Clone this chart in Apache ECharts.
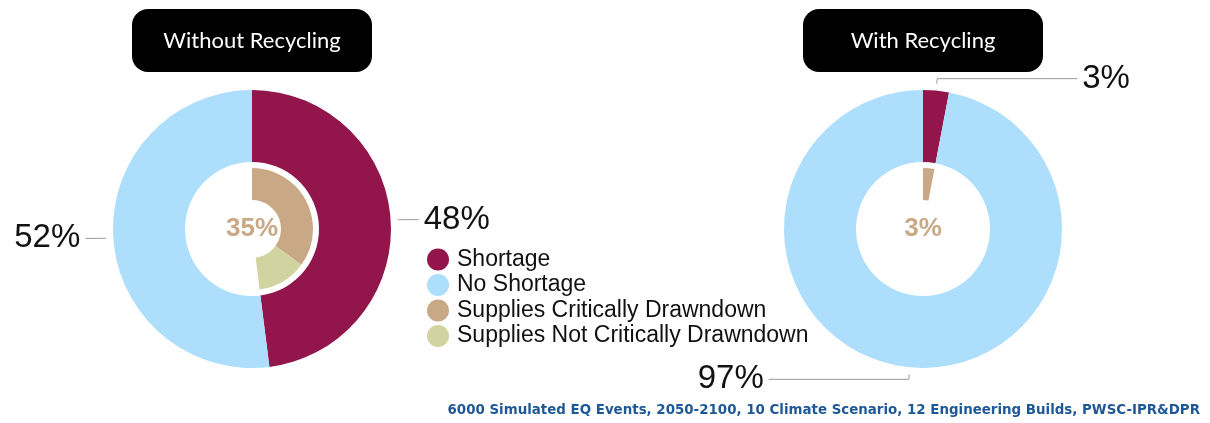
<!DOCTYPE html>
<html><head><meta charset="utf-8">
<script src="https://cdn.jsdelivr.net/npm/echarts@6/dist/echarts.min.js"></script>
<style>html,body{margin:0;padding:0;background:#fff}#c{width:1210px;height:423px}</style>
</head><body><div id="c"></div>
<script>
const categories = ['Shortage', 'No Shortage', 'Supplies Critically Drawndown', 'Supplies Not Critically Drawndown'];
const panelTitles = ['Without Recycling', 'With Recycling'];
const withoutOuter = [48, 52];      // Shortage, No Shortage
const withoutInner = [35, 13];      // Critically, Not Critically (breakdown of shortage)
const withOuter = [3, 97];
const withInner = [3, 0];
const caption = '6000 Simulated EQ Events, 2050-2100, 10 Climate Scenario, 12 Engineering Builds, PWSC-IPR&DPR';

const colors = ['#92154C', '#ADDEFC', '#C9A985', '#D1D3A0'];
const centers = [[252, 229], [923, 229]];
const font = '"Liberation Sans", Arial, sans-serif';

function gapLayout(params) {
  const p = params.labelLinePoints;
  if (!p || p.length < 3) return {};
  const a = p[0], b = p[1];
  const dx = b[0] - a[0], dy = b[1] - a[1];
  const d = Math.hypot(dx, dy) || 1;
  const g = Math.min(7, d - 1);
  return {labelLinePoints: [[a[0] + dx / d * g, a[1] + dy / d * g], [b[0], b[1]], [p[2][0], p[2][1]]]};
}

function outerSeries(vals, center, len, len2) {
  return {
    type: 'pie', radius: [67, 139], center: center, startAngle: 90, clockwise: true,
    avoidLabelOverlap: false, silent: true, emphasis: {disabled: true},
    label: {show: true, formatter: '{d}%', fontSize: 33, color: '#111', fontFamily: font, distanceToLabelLine: 5},
    labelLine: {show: true, length: len, length2: len2, lineStyle: {color: '#9a9a9a', width: 1}},
    labelLayout: gapLayout,
    data: vals.map((v, i) => ({name: categories[i], value: v, itemStyle: {color: colors[i]}}))
  };
}
function innerSeries(vals, center) {
  const rest = 100 - vals.reduce((a, b) => a + b, 0);
  const data = vals.map((v, i) => ({name: categories[i + 2], value: v, itemStyle: {color: colors[i + 2]}}));
  data[0].label = {show: true, position: 'center', formatter: '{d}%', fontSize: 26, fontWeight: 'bold', color: colors[2], fontFamily: font};
  data.push({name: '', value: rest, itemStyle: {color: 'rgba(0,0,0,0)'}});
  return {
    type: 'pie', radius: [29, 61], center: center, startAngle: 90, clockwise: true,
    silent: true, emphasis: {disabled: true}, label: {show: false}, labelLine: {show: false},
    data: data
  };
}

const titleGraphics = panelTitles.map((t, i) => ({
  type: 'group', left: centers[i][0] - 120, top: 9,
  children: [
    {type: 'rect', shape: {x: 0, y: 0, width: 240, height: 63, r: 16}, style: {fill: '#000'}},
    {type: 'text', x: 120, y: 32, style: {text: t, fill: '#fff', font: '22px Lato, "Open Sans", sans-serif', textAlign: 'center', textVerticalAlign: 'middle'}}
  ]
}));

const chart = echarts.init(document.getElementById('c'), null, {renderer: 'canvas'});
chart.setOption({
  animation: false,
  color: colors,
  legend: {
    data: categories, orient: 'vertical', left: 422, top: 243, icon: 'circle',
    itemWidth: 22, itemHeight: 22, itemGap: 2.5, selectedMode: false,
    textStyle: {fontSize: 23, color: '#111', fontFamily: font, padding: [0, 0, 0, 3]}
  },
  graphic: titleGraphics.concat([
    {type: 'text', right: 10, top: 404, style: {text: caption, fill: '#1F5897', font: 'bold 13.4px "DejaVu Sans", sans-serif'}}
  ]),
  series: [
    outerSeries(withoutOuter, centers[0], 10, 18),
    innerSeries(withoutInner, centers[0]),
    outerSeries(withOuter, centers[1], 12, 140),
    innerSeries(withInner, centers[1])
  ]
});
</script></body></html>
